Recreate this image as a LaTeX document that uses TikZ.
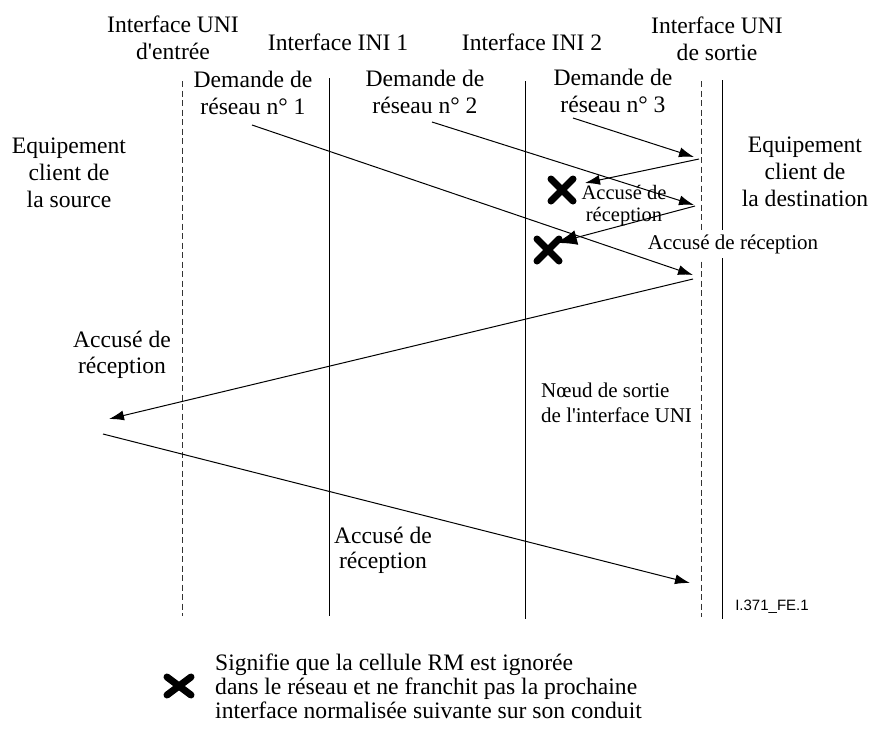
\documentclass[tikz,border=0pt]{standalone}
\usepackage{fontspec}
\setmainfont{Liberation Serif}
\newfontfamily\codefont{Liberation Sans}
\usetikzlibrary{arrows.meta,calc}
\tikzset{
  lbl/.style={align=center, inner sep=0pt, font=\fontsize{23.6}{27}\selectfont},
  smalllbl/.style={align=center, inner sep=0pt, font=\fontsize{20.5}{22}\selectfont},
  dashline/.style={line width=1pt, dash pattern=on 6pt off 3.5pt, black!80},
  solidline/.style={line width=1pt},
  msg/.style={line width=1pt, -{Latex[length=15pt,width=10pt]}},
  bigmsg/.style={line width=1pt, -{Latex[length=21pt,width=15pt]}},
  xmark/.style={line width=7pt, line cap=round}
}
\begin{document}
\begin{tikzpicture}[x=1pt,y=-1pt]
\useasboundingbox (0,0) rectangle (870,734);

% vertical lines
\coordinate (uniinT) at (182,81);  \coordinate (uniinB) at (182,616);
\coordinate (ini1T) at (329,78);   \coordinate (ini1B) at (329,616);
\coordinate (ini2T) at (525,81);   \coordinate (ini2B) at (525,619);
\coordinate (unioutT) at (701,81); \coordinate (unioutB) at (701,617);
\coordinate (dstT) at (722,80);    \coordinate (dstB) at (722,619);
\draw[dashline] (uniinT) -- (uniinB);
\draw[solidline] (ini1T) -- (ini1B);
\draw[solidline] (ini2T) -- (ini2B);
\draw[dashline] (unioutT) -- (unioutB);
\draw[solidline] (dstT) -- (dstB);

% top labels
\node[lbl] (luniin) at (173,38) {Interface UNI\\d\textquotesingle entrée};
\node[lbl] (lini1) at (338,42) {Interface INI 1};
\node[lbl] (lini2) at (532,42) {Interface INI 2};
\node[lbl] (luniout) at (717,39) {Interface UNI\\de sortie};
\node[lbl] (dem1) at (253,93) {Demande de\\réseau n° 1};
\node[lbl] (dem2) at (425,92) {Demande de\\réseau n° 2};
\node[lbl] (dem3) at (613,91) {Demande de\\réseau n° 3};
\node[lbl] (src) at (69,173) {Equipement\\client de\\la source};
\node[lbl] (dst) at (805,172) {Equipement\\client de\\la destination};

% acknowledgement labels
\node[smalllbl] (ackx) at (624,206) {Accusé de\\réception};
\node[lbl, font=\fontsize{21}{24}\selectfont, fill=white, inner xsep=1pt, inner ysep=4pt] (ackr) at (733,244) {Accusé de réception};
\node[lbl, font=\fontsize{23.6}{26}\selectfont] (ackl) at (122,355) {Accusé de\\réception};
\node[lbl, font=\fontsize{21}{25}\selectfont, align=left, anchor=west] (noeud) at (541,403) {N\oe ud de sortie\\de l\textquotesingle interface UNI};
\node[lbl, font=\fontsize{23.6}{25}\selectfont] (ackb) at (383,550) {Accusé de\\réception};
\node[inner sep=0pt, font=\codefont\fontsize{15}{17}\selectfont] (code) at (772,607) {I.371\_FE.1};

% message endpoints
\coordinate (a1s) at (252,125); \coordinate (a1e) at (693,275);
\coordinate (a2s) at (432,122); \coordinate (a2e) at (694,205);
\coordinate (a3s) at (573,118); \coordinate (a3e) at (694,157);
\coordinate (r3s) at (699,159); \coordinate (r3e) at (585,183);
\coordinate (r2s) at (695,206); \coordinate (r2e) at (556,243);
\coordinate (r1s) at (693,279); \coordinate (r1e) at (109,419);
\coordinate (a4s) at (103,434); \coordinate (a4e) at (690,583);

\draw[msg] (a1s) -- (a1e);
\draw[msg] (a2s) -- (a2e);
\draw[msg] (a3s) -- (a3e);
\draw[msg] (r3s) -- (r3e);
\draw[bigmsg] (r2s) -- (r2e);
\draw[msg] (r1s) -- (r1e);
\draw[msg] (a4s) -- (a4e);

% X marks
\coordinate (x1) at (562,190);
\coordinate (x2) at (548,250);
\draw[xmark] ($(x1)+(-11,-11)$) -- ($(x1)+(11,11)$) ($(x1)+(-11,11)$) -- ($(x1)+(11,-11)$);
\draw[xmark] ($(x2)+(-11,-11)$) -- ($(x2)+(11,11)$) ($(x2)+(-11,11)$) -- ($(x2)+(11,-11)$);

% legend
\coordinate (lx) at (179,686);
\draw[xmark] ($(lx)+(-12,-9)$) -- ($(lx)+(12,9)$) ($(lx)+(-12,9)$) -- ($(lx)+(12,-9)$);
\node[lbl, font=\fontsize{23.6}{24}\selectfont, align=left, anchor=west] (legend) at (215,686) {Signifie que la cellule RM est ignorée\\dans le réseau et ne franchit pas la prochaine\\interface normalisée suivante sur son conduit};
\end{tikzpicture}
\end{document}
